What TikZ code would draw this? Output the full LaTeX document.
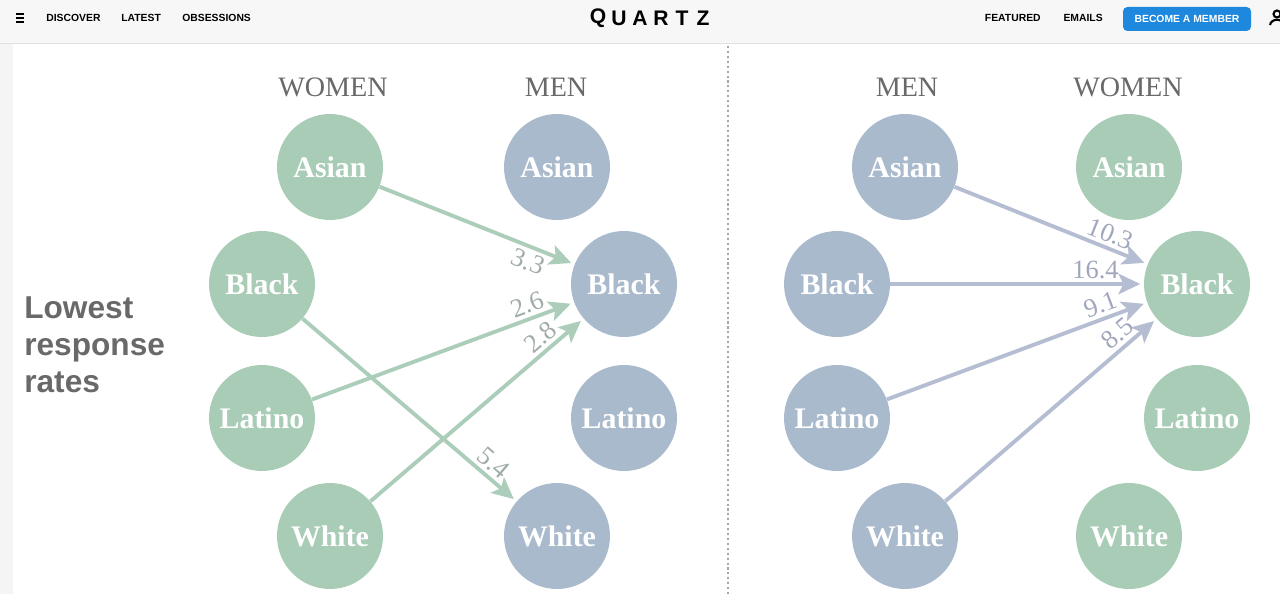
\documentclass[tikz,border=0pt]{standalone}
\usepackage{fontspec}
\setmainfont{Liberation Serif}
\setsansfont{Liberation Sans}
\usetikzlibrary{arrows.meta}

\definecolor{womenfill}{RGB}{169,204,183}
\definecolor{menfill}{RGB}{170,186,205}
\definecolor{greenline}{RGB}{172,205,186}
\definecolor{blueline}{RGB}{180,189,209}
\definecolor{greenlab}{RGB}{160,172,166}
\definecolor{bluelab}{RGB}{160,167,188}
\definecolor{headgray}{RGB}{105,105,105}
\definecolor{barbg}{RGB}{247,247,247}
\definecolor{btnblue}{RGB}{30,136,222}

\begin{document}
\begin{tikzpicture}[x=0.02cm, y=-0.02cm,
    women/.style={shape=circle, fill=womenfill, minimum size=2.12cm, inner sep=0pt, text=white, font=\bfseries\fontsize{17}{17}\selectfont},
    men/.style={women, fill=menfill},
    head/.style={text=headgray, font=\fontsize{16}{16}\selectfont},
    garrow/.style={color=greenline, line width=2.2pt, -{Stealth[length=12.5pt,width=12pt,inset=3pt,line width=0pt]}, shorten >=2pt},
    barrow/.style={garrow, color=blueline},
    glab/.style={text=greenlab, font=\fontsize{15}{15}\selectfont, sloped, inner sep=2pt},
    blab/.style={glab, text=bluelab},
    navtext/.style={font=\sffamily\bfseries\fontsize{5.9}{7}\selectfont, text=black, inner sep=0pt},
    qz/.style={font=\sffamily\bfseries\fontsize{12}{12}\selectfont, text=black}]
    \useasboundingbox (0,0) rectangle (1280,594);
    \fill[white] (0,0) rectangle (1280,594);

    % top bar
    \fill[barbg] (0,0) rectangle (1280,43);
    \draw[black!12] (0,43) -- (1280,43);
    \fill[black!4] (0,44) rectangle (13,594);
    \foreach \yy in {14,18,22}
        \draw[line width=1.3pt] (16,\yy) -- (24,\yy);
    \node[navtext, anchor=west] (discover) at (46,18) {DISCOVER};
    \node[navtext, anchor=west] (latest) at (121,18) {LATEST};
    \node[navtext, anchor=west] (obsessions) at (182,18) {OBSESSIONS};
    \foreach \ch [count=\i from 0] in {Q,U,A,R,T,Z}
        \node[qz] (q\i) at (598+21*\i,18) {\ch};
    \node[navtext, anchor=east] (featured) at (1041,18) {FEATURED};
    \node[navtext, anchor=east] (emails) at (1103,18) {EMAILS};
    \fill[btnblue, rounded corners=2.5pt] (1123,7) rectangle (1251,31);
    \node[navtext, text=white] (member) at (1187,19) {BECOME A MEMBER};
    \draw[line width=1.2pt] (1277,14) circle (3.5);
    \draw[line width=1.2pt] (1270,25) .. controls (1271,18) and (1283,18) .. (1284,25);

    % divider
    \draw[black!35, line width=1.2pt, dash pattern=on 1.2pt off 1.6pt] (728,46) -- (728,594);

    \node[anchor=west, align=left, inner sep=0pt, text=headgray, font=\sffamily\bfseries\fontsize{18}{21}\selectfont] (title) at (24,345) {Lowest\\response\\rates};

    % left panel
    \node[head] (LWhead) at (333,87) {WOMEN};
    \node[head] (LMhead) at (556,87) {MEN};
    \node[women] (LWA) at (330,167) {Asian};
    \node[women] (LWB) at (262,284) {Black};
    \node[women] (LWL) at (262,418) {Latino};
    \node[women] (LWW) at (330,536) {White};
    \node[men] (LMA) at (557,167) {Asian};
    \node[men] (LMB) at (624,284) {Black};
    \node[men] (LML) at (624,418) {Latino};
    \node[men] (LMW) at (557,536) {White};

    \path [garrow](LWA) edge node[glab, pos=0.79, below] {3.3} (LMB);
    \path [garrow](LWL) edge node[glab, pos=0.84, above] {2.6} (LMB);
    \path [garrow](LWW) edge node[glab, pos=0.84, above] {2.8} (LMB);
    \path [garrow](LWB) edge node[glab, pos=0.85, above] {5.4} (LMW);

    % right panel
    \node[head] (RMhead) at (907,87) {MEN};
    \node[head] (RWhead) at (1128,87) {WOMEN};
    \node[men] (RMA) at (905,167) {Asian};
    \node[men] (RMB) at (837,284) {Black};
    \node[men] (RML) at (837,418) {Latino};
    \node[men] (RMW) at (905,536) {White};
    \node[women] (RWA) at (1129,167) {Asian};
    \node[women] (RWB) at (1197,284) {Black};
    \node[women] (RWL) at (1197,418) {Latino};
    \node[women] (RWW) at (1129,536) {White};

    \path [barrow](RMA) edge node[blab, pos=0.78, above] {10.3} (RWB);
    \path [barrow](RMB) edge node[blab, pos=0.81, above] {16.4} (RWB);
    \path [barrow](RML) edge node[blab, pos=0.84, above] {9.1} (RWB);
    \path [barrow](RMW) edge node[blab, pos=0.86, above] {8.5} (RWB);

\end{tikzpicture}
\end{document}
